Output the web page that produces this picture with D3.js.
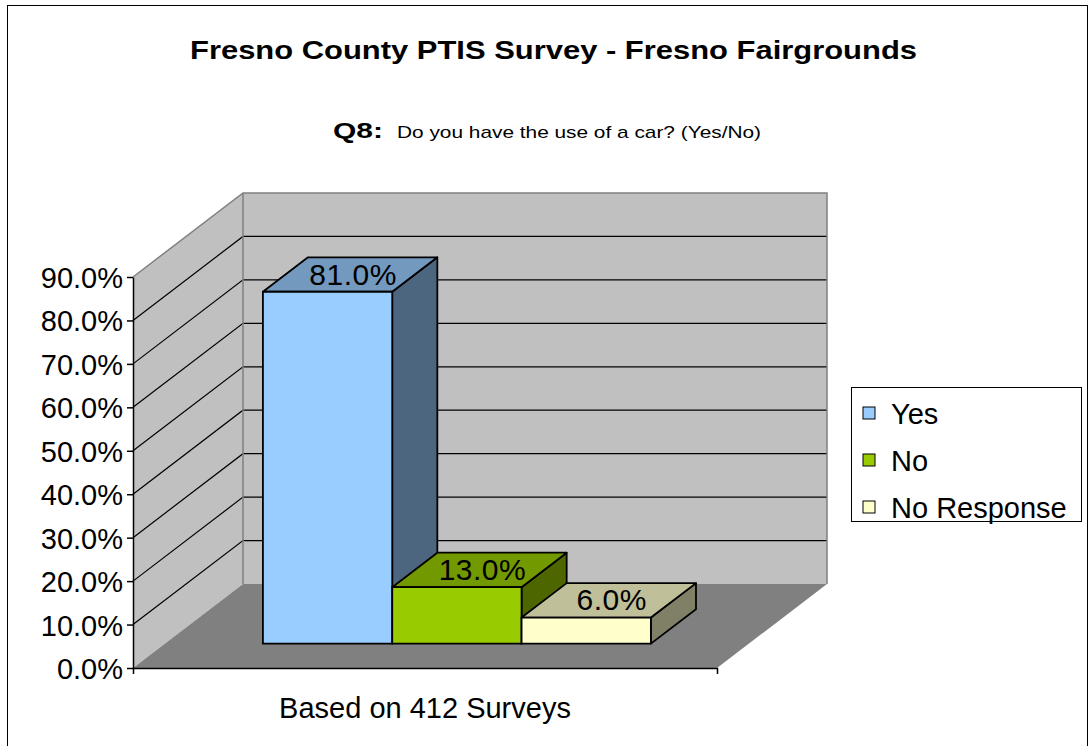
<!DOCTYPE html>
<html>
<head>
<meta charset="utf-8">
<script src="https://cdn.jsdelivr.net/npm/d3@7/dist/d3.min.js"></script>
<style>
  body { margin: 0; background: #fff; }
  text { font-family: "Liberation Sans", Arial, sans-serif; fill: #000; }
</style>
</head>
<body>
<script>
// chart data
const categories = ['Based on 412 Surveys']
const seriesNames = ['Yes', 'No', 'No Response']
const seriesValues = [81.0, 13.0, 6.0]
const seriesColors = ['#99CCFF', '#99CC00', '#FFFFCC']
const yTicks = [0, 10, 20, 30, 40, 50, 60, 70, 80, 90]

const W = 1091, H = 746

// 3d box: front plane + oblique depth
const FRONT_LEFT = 133, FRONT_RIGHT = 717
const FRONT_BOTTOM = 668, FRONT_TOP = 277
const DEPTH_X = 110, DEPTH_Y = 84
const BAR_Z0 = 0.29, BAR_Z1 = 0.70

const proj = (x, y, z) => [x + z * DEPTH_X, y - z * DEPTH_Y]
const pts = arr => arr.map(p => p.join(',')).join(' ')
const shade = (c, k) => { const r = d3.rgb(c); return d3.rgb(r.r * k, r.g * k, r.b * k).formatHex() }

const svg = d3.select('body').append('svg')
  .attr('width', W).attr('height', H)

// outer border
svg.append('rect')
  .attr('x', 7.5).attr('y', 5.5)
  .attr('width', 1080).attr('height', 760)
  .attr('fill', '#fff').attr('stroke', '#000').attr('stroke-width', 1)

const y = d3.scaleLinear().domain([0, 90]).range([FRONT_BOTTOM, FRONT_TOP])

const x = d3.scaleBand()
  .domain(categories)
  .range([FRONT_LEFT, FRONT_RIGHT])
  .paddingOuter(0.2526)
  .paddingInner(0)

const xSeries = d3.scaleBand()
  .domain(seriesNames)
  .range([0, x.bandwidth()])
  .padding(0)

// walls and floor
const yMax = y.domain()[1]
svg.append('polygon')
  .attr('points', pts([proj(FRONT_LEFT, y(0), 0), proj(FRONT_LEFT, y(yMax), 0), proj(FRONT_LEFT, y(yMax), 1), proj(FRONT_LEFT, y(0), 1)]))
  .attr('fill', '#C0C0C0')
svg.append('polygon')
  .attr('points', pts([proj(FRONT_LEFT, y(0), 1), proj(FRONT_LEFT, y(yMax), 1), proj(FRONT_RIGHT, y(yMax), 1), proj(FRONT_RIGHT, y(0), 1)]))
  .attr('fill', '#C0C0C0')
svg.append('polygon')
  .attr('points', pts([proj(FRONT_LEFT, y(0), 0), proj(FRONT_RIGHT, y(0), 0), proj(FRONT_RIGHT, y(0), 1), proj(FRONT_LEFT, y(0), 1)]))
  .attr('fill', '#808080')

// gridlines (left wall diagonals + back wall)
const grid = svg.append('g')
yTicks.filter(t => t > 0 && t < yMax).forEach(t => {
  const a = proj(FRONT_LEFT, y(t), 0), b = proj(FRONT_LEFT, y(t), 1), c = proj(FRONT_RIGHT, y(t), 1)
  grid.append('polyline')
    .attr('points', pts([a, b, c]))
    .attr('fill', 'none').attr('stroke', '#000').attr('stroke-width', 1.2)
})

// wall edges
const topA = proj(FRONT_LEFT, y(yMax), 0), topB = proj(FRONT_LEFT, y(yMax), 1), topC = proj(FRONT_RIGHT, y(yMax), 1)
svg.append('polyline')
  .attr('points', pts([topA, topB, topC, proj(FRONT_RIGHT, y(0), 1)]))
  .attr('fill', 'none').attr('stroke', '#808080').attr('stroke-width', 1.5)
svg.append('line')
  .attr('x1', topB[0]).attr('y1', topB[1])
  .attr('x2', topB[0]).attr('y2', proj(FRONT_LEFT, y(0), 1)[1])
  .attr('stroke', '#808080').attr('stroke-width', 1.5)

// bars
const barData = seriesNames.map((name, i) => ({ name, value: seriesValues[i], color: seriesColors[i] }))
const bars = svg.selectAll('g.bar').data(barData).enter().append('g').attr('class', 'bar')

bars.each(function (d) {
  const g = d3.select(this)
  const x0 = x(categories[0]) + xSeries(d.name)
  const x1 = x0 + xSeries.bandwidth()
  const yb = y(0), yt = y(d.value)
  const f0 = proj(x0, yt, BAR_Z0), f1 = proj(x1, yt, BAR_Z0), f2 = proj(x1, yb, BAR_Z0), f3 = proj(x0, yb, BAR_Z0)
  const b0 = proj(x0, yt, BAR_Z1), b1 = proj(x1, yt, BAR_Z1), b2 = proj(x1, yb, BAR_Z1)
  g.append('polygon').attr('points', pts([f1, b1, b2, f2]))
    .attr('fill', shade(d.color, 0.5)).attr('stroke', '#000').attr('stroke-width', 1.8).attr('stroke-linejoin', 'round')
  g.append('polygon').attr('points', pts([f0, b0, b1, f1]))
    .attr('fill', shade(d.color, 0.75)).attr('stroke', '#000').attr('stroke-width', 1.8).attr('stroke-linejoin', 'round')
  g.append('polygon').attr('points', pts([f0, f1, f2, f3]))
    .attr('fill', d.color).attr('stroke', '#000').attr('stroke-width', 1.8).attr('stroke-linejoin', 'round')

  const cx = (f0[0] + f1[0] + b0[0] + b1[0]) / 4 + 3
  const cy = (f0[1] + b0[1]) / 2
  g.append('text')
    .attr('x', cx).attr('y', cy + 10)
    .attr('text-anchor', 'middle')
    .style('font-size', '30px')
    .style('letter-spacing', '0.5px')
    .text(d3.format('.1f')(d.value) + '%')
})

// y axis
const yAxis = d3.axisLeft(y)
  .tickValues(yTicks)
  .tickSize(6)
  .tickSizeOuter(0)
  .tickPadding(4)
  .tickFormat(d => d3.format('.1%')(d / 100))

const yAxisG = svg.append('g')
  .attr('transform', `translate(${FRONT_LEFT},0)`)
  .call(yAxis)
yAxisG.select('.domain').attr('stroke', '#000').attr('stroke-width', 1.5)
yAxisG.selectAll('.tick line').attr('stroke', '#000').attr('stroke-width', 1.5)
yAxisG.selectAll('.tick text')
  .attr('dy', '0.36em')
  .style('font-size', '29px')
  .style('font-family', '"Liberation Sans", Arial, sans-serif')
  .attr('fill', '#000')

// x axis (front floor edge)
const xAxis = d3.axisBottom(x).tickSize(0).tickSizeOuter(6)
const xAxisG = svg.append('g')
  .attr('transform', `translate(0,${FRONT_BOTTOM})`)
  .call(xAxis)
xAxisG.select('.domain').attr('stroke', '#000').attr('stroke-width', 1.5)
xAxisG.selectAll('.tick text')
  .attr('y', 50)
  .attr('dy', 0)
  .style('font-size', '29px')
  .style('font-family', '"Liberation Sans", Arial, sans-serif')
  .attr('fill', '#000')

// title
svg.append('text')
  .attr('x', 553.5).attr('y', 59)
  .attr('text-anchor', 'middle')
  .attr('textLength', 727).attr('lengthAdjust', 'spacingAndGlyphs')
  .style('font-size', '26px').style('font-weight', 'bold')
  .text('Fresno County PTIS Survey - Fresno Fairgrounds')

svg.append('text')
  .attr('x', 333).attr('y', 138)
  .attr('textLength', 50).attr('lengthAdjust', 'spacingAndGlyphs')
  .style('font-size', '22px').style('font-weight', 'bold')
  .text('Q8:')
svg.append('text')
  .attr('x', 397).attr('y', 138)
  .attr('textLength', 364).attr('lengthAdjust', 'spacingAndGlyphs')
  .style('font-size', '17px')
  .text('Do you have the use of a car? (Yes/No)')

// legend
const legend = svg.append('g').attr('transform', 'translate(851,387)')
legend.append('rect')
  .attr('x', 0.5).attr('y', 0.5).attr('width', 230).attr('height', 134)
  .attr('fill', '#fff').attr('stroke', '#000').attr('stroke-width', 1)
const items = legend.selectAll('g.item').data(barData).enter().append('g')
  .attr('transform', (d, i) => `translate(12,${20 + i * 47})`)
items.append('rect')
  .attr('width', 12).attr('height', 12)
  .attr('fill', d => d.color).attr('stroke', '#000').attr('stroke-width', 1)
items.append('text')
  .attr('x', 28).attr('y', 17)
  .style('font-size', '29px')
  .text(d => d.name)
</script>
</body>
</html>
